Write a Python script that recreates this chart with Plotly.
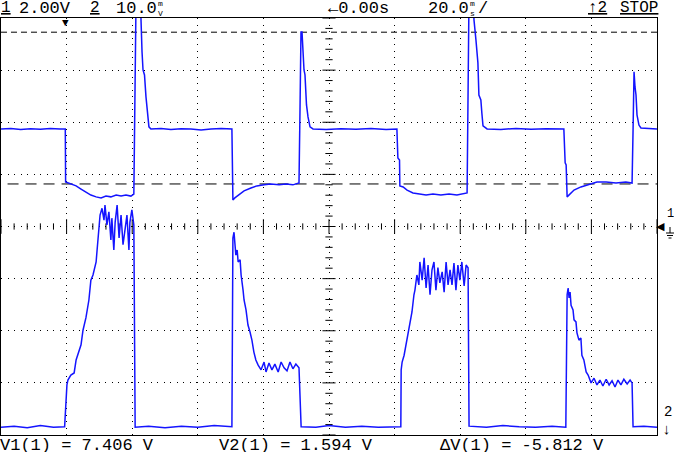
import plotly.graph_objects as go

# channel 1 (2.00 V/div), time in ms, 20 ms/div
ch1_t = [-100, -97, -94, -91, -88, -85, -82, -80.4,
         -80.3, -78.7, -77.1, -75.6, -74.1, -72.6, -71.0, -69.5, -68.0, -66.5, -64.9, -63.4, -61.9, -60.4, -59.5,
         -59.1, -58.8, -57.6, -57.3, -57.0, -56.7, -56.25, -55.8, -55.3, -54.9, -54.3,
         -51.2, -48.2, -45.1, -42.1, -39.0, -36.0, -32.9, -29.6,
         -29.3, -28.7, -27.4, -25.9, -23.8, -22.0, -19.8, -17.7, -15.2, -13.1, -11.0, -9.15,
         -8.84, -8.54, -8.23, -7.93, -7.62, -7.32, -6.86, -6.40, -5.79, -4.88,
         -0.9, 3.7, 8.2, 12.8, 17.4, 20.7,
         21.0, 21.5, 21.6, 22.6, 23.8, 25.6, 27.4, 29.6, 31.7, 34.1, 36.6, 39.0, 42.1,
         42.4, 42.7, 43.9, 44.2, 44.8, 45.4, 45.7, 46.3, 46.6, 46.95, 48.2,
         52.4, 57.0, 61.6, 66.2, 71.6,
         72.0, 72.3, 72.6, 73.5, 74.7, 76.8, 79.3, 81.7, 84.5, 87.5, 90.5, 92.4,
         92.7, 93.0, 93.3, 93.6, 93.9, 94.5, 95.1, 96.6, 100]
ch1_v = [3.70, 3.72, 3.68, 3.71, 3.69, 3.72, 3.70, 3.70,
         1.67, 1.59, 1.52, 1.40, 1.29, 1.17, 1.10, 1.06, 1.13, 1.10, 1.17, 1.13, 1.17, 1.13, 1.21,
         4.5, 9.0, 9.0, 7.11, 6.65, 5.96, 5.77, 4.93, 4.24, 3.78, 3.70,
         3.72, 3.68, 3.71, 3.70, 3.66, 3.70, 3.72, 3.70,
         0.98, 1.06, 1.17, 1.33, 1.44, 1.52, 1.56, 1.59, 1.56, 1.59, 1.56, 1.63,
         4.43, 7.41, 7.41, 6.65, 5.96, 5.77, 4.62, 4.16, 3.78, 3.70,
         3.68, 3.71, 3.69, 3.72, 3.68, 3.70,
         2.59, 2.51, 1.52, 1.48, 1.36, 1.25, 1.21, 1.17, 1.21, 1.17, 1.21, 1.17, 1.25,
         4.58, 9.0, 9.0, 7.88, 7.11, 6.23, 5.00, 4.81, 4.31, 3.82, 3.70,
         3.68, 3.72, 3.69, 3.71, 3.70,
         2.40, 2.32, 1.10, 1.21, 1.36, 1.48, 1.59, 1.67, 1.67, 1.63, 1.67, 1.63,
         3.66, 5.89, 5.31, 5.00, 4.24, 3.85, 3.74, 3.72, 3.70]

# channel 2 (10.0 mV/div)
ch2_t = [-100, -96, -92, -88, -84, -80.6,
         -79.9, -79.6, -78.7, -77.7, -77.1, -76.2, -75.6, -75.0, -74.1, -73.2,
         -72.6, -71.95, -71.0, -70.7, -70.3, -69.8, -69.2, -68.6, -68.3, -67.7,
         -67.1, -66.5, -66.2, -65.6, -65.2, -64.6, -64.0, -63.4, -62.8, -62.2,
         -61.6, -61.0, -60.7, -60.1, -59.5,
         -59.1, -55, -50, -45, -40, -35, -29.6,
         -29.3, -28.96, -28.7, -28.4, -28.0, -27.7, -27.1, -26.8, -26.2, -25.9,
         -25.3, -24.7, -24.1, -23.5, -22.9, -22.3, -21.6, -20.7, -19.8, -19.2,
         -18.3, -17.4, -16.5, -15.5, -14.6, -13.7, -12.8, -11.9, -11.0, -10.1, -9.15,
         -8.5, -4, 0, 5, 10, 15, 21.9,
         22.0, 22.3, 22.9, 23.5, 24.1, 24.7, 25.3, 25.9, 26.2, 26.8,
         27.4, 27.7, 28.4, 29.0, 29.6, 30.2, 30.8, 31.4, 32.0, 32.6,
         33.2, 33.8, 34.5, 35.1, 35.7, 36.3, 36.9, 37.5, 38.1, 38.7,
         39.3, 39.9, 40.5, 41.2, 41.8, 42.4,
         42.7, 48, 53, 58, 63, 68, 72.2,
         72.6, 72.9, 73.2, 73.5, 73.8, 74.4, 74.7, 75.3, 75.6, 76.2,
         76.8, 77.1, 77.7, 78.4, 79.0, 79.9, 80.8, 81.7, 82.6, 83.5,
         84.5, 85.4, 86.3, 87.2, 88.1, 89.0, 89.9, 90.9, 91.8, 92.4,
         92.7, 96, 100]
ch2_mv = [0.0, 0.2, -0.1, 0.3, 0.0, 0.1,
          8.1, 9.05, 10.0, 10.4, 12.9, 14.4, 15.8, 18.6, 21.0, 24.4,
          28.2, 29.2, 31.7, 34.0, 37.8, 40.7, 42.0, 39.7, 42.6, 38.8,
          41.3, 35.9, 40.1, 34.0, 39.3, 42.6, 36.3, 40.7, 35.0, 38.2,
          40.7, 34.0, 39.3, 41.7, 38.8,
          0.0, 0.2, -0.1, 0.2, 0.0, 0.3, 0.1,
          36.3, 37.4, 35.0, 33.0, 34.0, 31.7, 32.1, 29.2, 26.3, 24.4,
          22.5, 19.6, 18.3, 16.7, 14.4, 12.9, 11.9, 11.0, 12.5, 10.6,
          12.3, 11.0, 12.1, 10.6, 12.5, 11.4, 10.8, 12.5, 11.2, 12.1, 11.4,
          0.1, 0.0, 0.3, 0.0, 0.2, 0.0, 0.1,
          11.0, 12.5, 13.8, 15.8, 17.7, 19.6, 22.1, 25.4, 26.3, 29.2,
          27.3, 31.7, 28.2, 32.5, 26.7, 31.1, 25.4, 30.2, 31.7, 26.3,
          30.6, 27.7, 29.8, 25.9, 31.7, 27.3, 30.2, 27.3, 31.5, 26.3,
          31.1, 28.2, 31.7, 27.1, 31.1, 30.6,
          0.2, 0.0, 0.3, 0.1, 0.0, 0.2, 0.0,
          25.4, 26.7, 24.8, 25.9, 23.4, 22.5, 20.6, 20.2, 18.1, 16.7,
          17.1, 13.8, 12.9, 10.6, 10.0, 8.5, 9.4, 8.1, 9.05, 7.9,
          9.2, 8.1, 8.9, 7.7, 9.05, 8.1, 9.2, 8.3, 9.05, 8.5,
          0.1, 0.2, 0.0]

cursor_v1 = 7.406
cursor_v2 = 1.594
readouts = ["V1(1) = 7.406 V", "V2(1) = 1.594 V", "ΔV(1) = -5.812 V"]

BLUE = "#1414ff"
FONT = "Liberation Mono"

# plot area in pixels: x 1..657, y 18..435
def px(x):
    return (x - 1) / 656.0

def py(y):
    return (435 - y) / 417.0


fig = go.Figure()
fig.add_trace(go.Scatter(x=[], y=[], showlegend=False))
fig.add_trace(go.Scatter(x=ch1_t, y=ch1_v, yaxis="y2", mode="lines",
                         line=dict(color=BLUE, width=1.5), showlegend=False))
fig.add_trace(go.Scatter(x=ch2_t, y=ch2_mv, yaxis="y3", mode="lines",
                         line=dict(color=BLUE, width=1.5), showlegend=False))

shapes = []
# tick marks on the centre lines
for k in range(-50, 51):
    h = 0.14 if k % 5 == 0 else 0.06
    shapes.append(dict(type="line", xref="x", yref="y", x0=k * 4, x1=k * 4,
                       y0=-h, y1=h, line=dict(color="black", width=1), layer="below"))
for k in range(-20, 21):
    w = 2.0 if k % 5 == 0 else 1.1
    shapes.append(dict(type="line", xref="x", yref="y", x0=-w, x1=w,
                       y0=k * 0.2, y1=k * 0.2, line=dict(color="black", width=1), layer="below"))
# cursors
shapes.append(dict(type="line", xref="paper", yref="y2", x0=0, x1=1, y0=cursor_v1, y1=cursor_v1,
                   line=dict(color="black", width=1, dash="6px,4px"), layer="below"))
shapes.append(dict(type="line", xref="paper", yref="y2", x0=0.01, x1=1, y0=cursor_v2, y1=cursor_v2,
                   line=dict(color="black", width=1, dash="11px,7px"), layer="below"))
# ground symbol for channel 1
for i, w in enumerate([4, 3, 1.5]):
    yy = 233 + i * 2.5
    shapes.append(dict(type="line", xref="paper", yref="paper", x0=px(670 - w), x1=px(670 + w),
                       y0=py(yy), y1=py(yy), line=dict(color="black", width=1)))
shapes.append(dict(type="line", xref="paper", yref="paper", x0=px(670), x1=px(670),
                   y0=py(227), y1=py(233), line=dict(color="black", width=1)))

ann = []


def txt(s, x, y, size=16, anchor="left"):
    ann.append(dict(text=s, x=px(x), y=py(y), xref="paper", yref="paper",
                    xanchor=anchor, yanchor="middle", showarrow=False, borderpad=0,
                    font=dict(family=FONT, size=size, color="black")))


# header
txt("<u>1</u>", 0, 8.5)
txt("2.00V", 18, 8.5, size=17)
txt("<u>2</u>", 89, 8.5)
txt("10.0", 115, 8.5, size=17)
txt("m<br>V", 157, 9, size=8)
txt("←0.00s", 327, 8.5, size=17)
txt("20.0", 427, 8.5, size=17)
txt("m<br>s", 469, 9, size=8)
txt("/", 477, 8.5, size=17)
txt("<u>↑2</u>", 587, 8.5)
txt("<u>STOP</u>", 619, 8.5)

# readouts
txt(readouts[0], -1, 445.5, size=17)
txt(readouts[1], 218, 445.5, size=17)
txt(readouts[2], 439, 445.5, size=17)

# markers
txt("▼", 61, 23, size=11)
txt("◀", 655, 227, size=11)
txt("1", 666, 214, size=12)
txt("2", 663, 412, size=14)
txt("↓", 661, 430, size=15)

fig.update_layout(
    width=674, height=452,
    margin=dict(l=1, r=17, t=18, b=17),
    paper_bgcolor="white", plot_bgcolor="white",
    shapes=shapes, annotations=ann,
    xaxis=dict(range=[-100, 100], tick0=-100, dtick=20, showgrid=True, gridcolor="black",
               gridwidth=1, griddash="1px,5.5px", zeroline=False, showticklabels=False,
               ticks="", showline=True, mirror=True, linecolor="black", linewidth=1,
               fixedrange=True),
    yaxis=dict(range=[-4, 4], tick0=-4, dtick=1, showgrid=True, gridcolor="black",
               gridwidth=1, griddash="1px,5.5px", zeroline=False, showticklabels=False,
               ticks="", showline=True, mirror=True, linecolor="black", linewidth=1,
               fixedrange=True),
    yaxis2=dict(range=[-8.02, 7.95], overlaying="y", visible=False, fixedrange=True),
    yaxis3=dict(range=[-1.5, 78.5], overlaying="y", visible=False, fixedrange=True),
)

# the page body has a default 8px margin; drop it so the figure fills the window
fig.write_html("out.html", config={"displayModeBar": False},
               post_script="document.body.style.margin='0';")
